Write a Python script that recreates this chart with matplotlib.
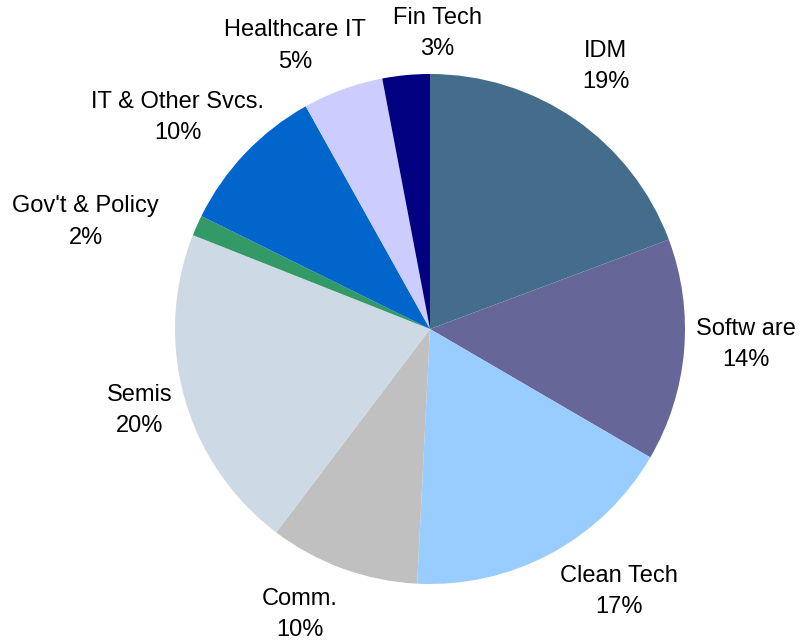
import matplotlib
matplotlib.use("Agg")
import matplotlib.pyplot as plt
import numpy as np

# Sector shares (slice sizes, labels show rounded values)
sectors = ["IDM", "Softw are", "Clean Tech", "Comm.", "Semis",
           "Gov't & Policy", "IT & Other Svcs.", "Healthcare IT", "Fin Tech"]
shares = [19.3, 14.1, 17.4, 9.5, 20.7, 1.3, 9.6, 5.1, 3.0]
pct_labels = ["19%", "14%", "17%", "10%", "20%", "2%", "10%", "5%", "3%"]
colors = ["#446D8C", "#666699", "#99CCFF", "#C0C0C0", "#CDDAE5",
          "#339966", "#0066CC", "#CCCCFF", "#000080"]

# label placement (data units, pie radius = 1)
label_xy = [(0.69, 1.03), (1.24, -0.06), (0.74, -1.03), (-0.51, -1.12),
            (-1.14, -0.32), (-1.35, 0.42), (-0.99, 0.83), (-0.53, 1.11),
            (0.03, 1.16)]

plt.rcParams["font.family"] = ["Liberation Sans", "DejaVu Sans"]

fig = plt.figure(figsize=(8.02, 6.44), dpi=100)
cx, cy, r = 430 / 802, 1 - 329 / 644, 255
ax = fig.add_axes([cx - r / 802, cy - r / 644, 2 * r / 802, 2 * r / 644])

ax.pie(shares, colors=colors, startangle=90, counterclock=False,
       wedgeprops=dict(linewidth=0))

for name, pct, (x, y) in zip(sectors, pct_labels, label_xy):
    ax.text(x, y, f"{name}\n{pct}", ha="center", va="center",
            fontsize=17, linespacing=1.55, clip_on=False)

ax.set_xlim(-1, 1)
ax.set_ylim(-1, 1)
ax.set_aspect("equal")
ax.axis("off")

fig.savefig("out.png", dpi=100)
